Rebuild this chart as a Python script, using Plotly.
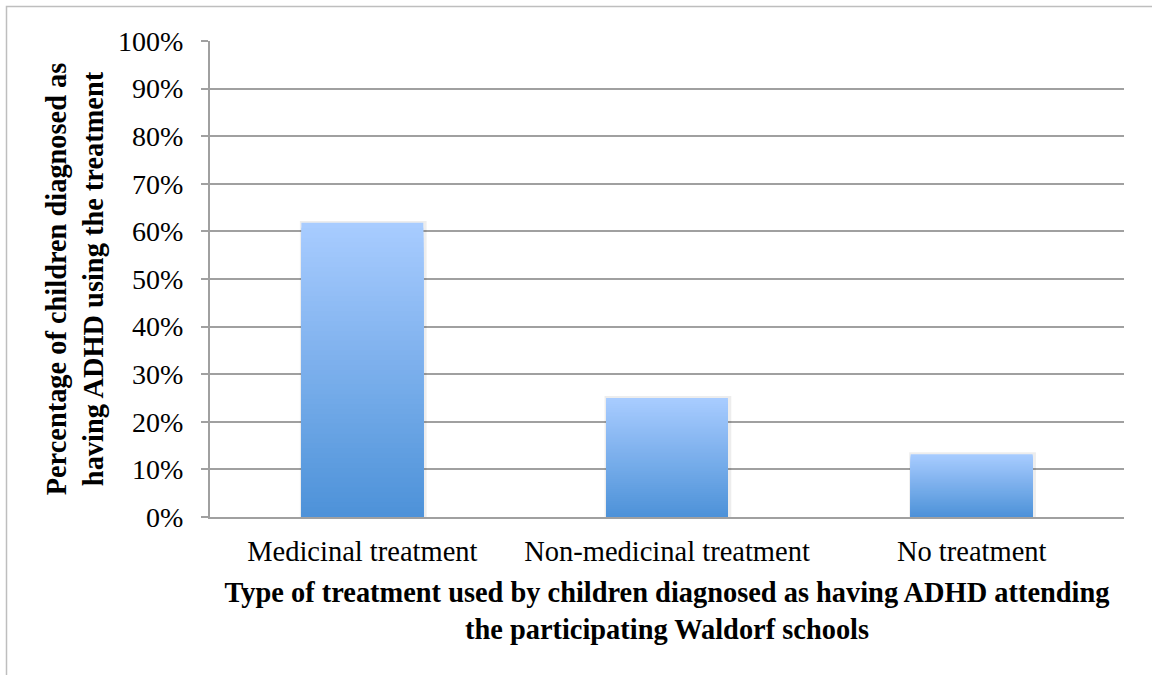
import plotly.graph_objects as go

categories = ["Medicinal treatment", "Non-medicinal treatment", "No treatment"]
values = [0.618, 0.25, 0.132]
y_ticks = [0, 0.1, 0.2, 0.3, 0.4, 0.5, 0.6, 0.7, 0.8, 0.9, 1.0]

x_title = ("Type of treatment used by children diagnosed as having ADHD attending"
           "<br>the participating Waldorf schools")
y_title = "Percentage of children diagnosed as<br>having ADHD using the treatment"

top_rgb = (168, 204, 255)
bot_rgb = (76, 145, 216)
N = 60
FONT = "Liberation Serif"

W, H = 1152, 675
ML, MR, MT, MB = 210, 28, 41, 158

fig = go.Figure()

# soft shadow behind bars
fig.add_trace(go.Bar(
    x=categories, y=[v + 0.004 for v in values],
    marker=dict(color="rgba(0,0,0,0.07)", line=dict(width=0)),
    hoverinfo="skip", offset=-0.205, width=0.416,
))

# gradient: overlay progressively shorter bars, each darker
for j in range(N, 0, -1):
    t = j / N  # 1 at top, ->0 at bottom
    c = tuple(round(b + (a - b) * t) for a, b in zip(top_rgb, bot_rgb))
    fig.add_trace(go.Bar(
        x=categories,
        y=[v * j / N for v in values],
        marker=dict(color=f"rgb{c}", line=dict(width=0)),
        hoverinfo="skip",
        width=0.4,
    ))

pw = W - ML - MR
ph = H - MT - MB
fig.add_shape(
    type="rect", xref="paper", yref="paper",
    x0=(6.5 - ML) / pw, x1=(W + 5 - ML) / pw,
    y0=-(H + 5 - MT - ph) / ph, y1=(ph + MT - 6.5) / ph,
    line=dict(color="#BEBEBE", width=1.5), fillcolor="rgba(0,0,0,0)", layer="below",
)

fig.update_layout(
    width=W, height=H,
    margin=dict(l=ML, r=MR, t=MT, b=MB),
    barmode="overlay",
    showlegend=False,
    plot_bgcolor="white", paper_bgcolor="white",
    font=dict(family=FONT, color="black"),
    xaxis=dict(
        showline=True, linecolor="#A0A0A0", linewidth=2,
        showgrid=False, ticks="", tickfont=dict(size=28.5, family=FONT),
        ticklabelstandoff=8, automargin=False,
        title=dict(text=x_title, font=dict(size=28.4, family=FONT, weight="bold"), standoff=16),
    ),
    yaxis=dict(
        range=[0, 1], tickvals=y_ticks, tickformat=".0%",
        showline=True, linecolor="#A0A0A0", linewidth=2,
        showgrid=True, gridcolor="#A0A0A0", gridwidth=2,
        ticks="outside", ticklen=7, tickcolor="#A0A0A0", tickwidth=2,
        tickfont=dict(size=28, family=FONT), ticklabelstandoff=12, automargin=False,
        title=dict(text=y_title, font=dict(size=28.4, family=FONT, weight="bold"), standoff=6),
        zeroline=False,
    ),
)

fig.write_html("out.html")
